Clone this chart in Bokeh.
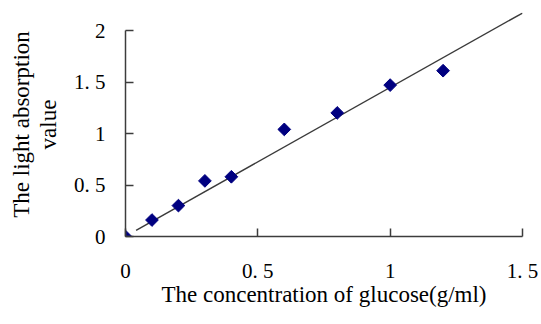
import math
from bokeh.plotting import figure
from bokeh.models import Range1d, FixedTicker
from bokeh.embed import file_html
from bokeh.resources import INLINE

# data
conc = [0, 0.1, 0.2, 0.3, 0.4, 0.6, 0.8, 1.0, 1.2]
absorb = [0, 0.16, 0.30, 0.54, 0.58, 1.04, 1.20, 1.47, 1.61]
trend_x = [0.04, 1.5]
trend_y = [0.06, 2.17]

x_ticks = [0, 0.5, 1, 1.5]
x_tick_labels = ["0", "0. 5", "1", "1. 5"]
y_ticks = [0, 0.5, 1, 1.5, 2]
y_tick_labels = ["0", "0. 5", "1", "1. 5", "2"]

x_title = "The concentration of glucose(g/ml)"
y_title = "The light absorption\nvalue"

FONT = "Liberation Serif"
AX = "#3c3c3c"

p = figure(width=538, height=320, output_backend="svg", toolbar_location=None,
           x_range=Range1d(0, 1.5), y_range=Range1d(0, 2.175),
           min_border_left=125, min_border_right=16, min_border_top=12, min_border_bottom=84,
           x_axis_label=x_title, y_axis_label=y_title)
p.outline_line_color = None
p.xgrid.visible = False
p.ygrid.visible = False
p.background_fill_color = "white"
p.border_fill_color = "white"

p.line(trend_x, trend_y, line_color="#3a3a3a", line_width=1.4)
p.scatter(conc, absorb, marker="square", size=9, angle=math.pi / 4,
          fill_color="#000080", line_color="#000080")

xa = p.xaxis[0]
xa.bounds = (0, 1.5)
xa.ticker = FixedTicker(ticks=x_ticks)
xa.major_label_overrides = {t: s for t, s in zip(x_ticks, x_tick_labels)}
xa.minor_tick_line_color = None
xa.major_tick_in = 8
xa.major_tick_out = 0
xa.major_label_standoff = 22
xa.axis_line_color = AX
xa.axis_line_width = 1.5
xa.major_tick_line_color = AX
xa.major_tick_line_width = 1.5
xa.major_label_text_font = FONT
xa.major_label_text_font_size = "21px"
xa.major_label_text_color = "black"
xa.axis_label_text_font = FONT
xa.axis_label_text_font_size = "23px"
xa.axis_label_text_font_style = "normal"
xa.axis_label_text_color = "black"
xa.axis_label_standoff = -4

ya = p.yaxis[0]
ya.bounds = (0, 2)
ya.ticker = FixedTicker(ticks=y_ticks)
ya.major_label_overrides = {t: s for t, s in zip(y_ticks, y_tick_labels)}
ya.minor_tick_line_color = None
ya.major_tick_in = 8
ya.major_tick_out = 0
ya.major_label_standoff = 20
ya.axis_line_color = AX
ya.axis_line_width = 1.5
ya.major_tick_line_color = AX
ya.major_tick_line_width = 1.5
ya.major_label_text_font = FONT
ya.major_label_text_font_size = "21px"
ya.major_label_text_color = "black"
ya.axis_label_text_font = FONT
ya.axis_label_text_font_size = "23px"
ya.axis_label_text_font_style = "normal"
ya.axis_label_text_color = "black"
ya.axis_label_text_line_height = 1.1
ya.axis_label_standoff = 10

open("out.html", "w").write(file_html(p, INLINE))
